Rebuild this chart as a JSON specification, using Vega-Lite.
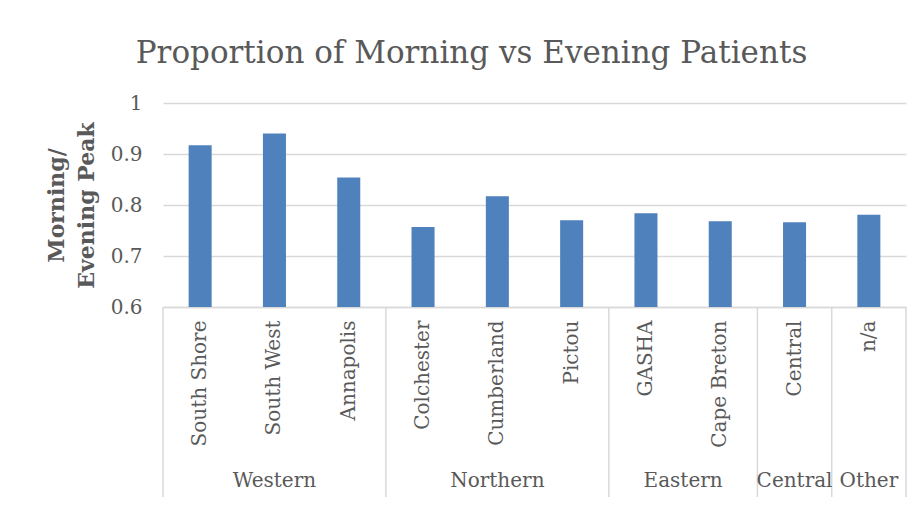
{
  "$schema": "https://vega.github.io/schema/vega-lite/v6.json",
  "width": 743,
  "height": 204,
  "autosize": "none",
  "padding": {"left": 163, "top": 103, "right": 18, "bottom": 201},
  "background": "white",
  "title": {
    "text": "Proportion of Morning vs Evening Patients",
    "font": "DejaVu Serif",
    "fontSize": 31,
    "fontWeight": "normal",
    "color": "#595959",
    "anchor": "middle",
    "dx": -63,
    "offset": 23
  },
  "config": {
    "view": {"stroke": null},
    "font": "DejaVu Serif"
  },
  "datasets": {
    "bars": [
      {"region": "South Shore", "group": "Western", "value": 0.917},
      {"region": "South West", "group": "Western", "value": 0.940},
      {"region": "Annapolis", "group": "Western", "value": 0.854},
      {"region": "Colchester", "group": "Northern", "value": 0.757},
      {"region": "Cumberland", "group": "Northern", "value": 0.817},
      {"region": "Pictou", "group": "Northern", "value": 0.770},
      {"region": "GASHA", "group": "Eastern", "value": 0.784},
      {"region": "Cape Breton", "group": "Eastern", "value": 0.768},
      {"region": "Central", "group": "Central", "value": 0.766},
      {"region": "n/a", "group": "Other", "value": 0.781}
    ],
    "groupStarts": [
      {"region": "South Shore"},
      {"region": "Colchester"},
      {"region": "GASHA"},
      {"region": "Central"},
      {"region": "n/a"}
    ],
    "groupEnd": [
      {"region": "n/a"}
    ],
    "groupLabels": [
      {"group": "Western", "region": "South West", "between": false},
      {"group": "Northern", "region": "Cumberland", "between": false},
      {"group": "Eastern", "region": "GASHA", "between": true},
      {"group": "Central", "region": "Central", "between": false},
      {"group": "Other", "region": "n/a", "between": false}
    ]
  },
  "layer": [
    {
      "data": {"name": "bars"},
      "mark": {"type": "bar", "width": {"band": 0.31}, "color": "#4F81BD"},
      "encoding": {
        "x": {
          "field": "region",
          "type": "nominal",
          "scale": {
            "domain": ["South Shore", "South West", "Annapolis", "Colchester", "Cumberland", "Pictou", "GASHA", "Cape Breton", "Central", "n/a"],
            "paddingInner": 0,
            "paddingOuter": 0
          },
          "axis": {
            "title": null,
            "labelAngle": 270,
            "labelAlign": "right",
            "labelBaseline": "middle",
            "labelFontSize": 20,
            "labelColor": "#595959",
            "labelPadding": 13,
            "labelOverlap": false,
            "ticks": false,
            "domainColor": "#D9D9D9",
            "domainWidth": 1.5,
            "labelFont": "DejaVu Serif"
          }
        },
        "y": {
          "field": "value",
          "type": "quantitative",
          "scale": {"domain": [0.6, 1], "zero": false, "nice": false},
          "axis": {
            "title": ["Morning/", "Evening Peak"],
            "titleFont": "DejaVu Serif",
            "titleFontSize": 22,
            "titleFontWeight": "bold",
            "titleColor": "#595959",
            "titlePadding": 12,
            "titleLineHeight": 30,
            "values": [0.6, 0.7, 0.8, 0.9, 1],
            "format": "~g",
            "labelFontSize": 20,
            "labelColor": "#595959",
            "labelPadding": 21,
            "labelFont": "DejaVu Serif",
            "domain": false,
            "ticks": false,
            "gridColor": "#D9D9D9",
            "gridWidth": 1.5
          }
        },
        "y2": {"datum": 0.6}
      }
    },
    {
      "data": {"name": "groupStarts"},
      "mark": {"type": "rule", "color": "#D9D9D9", "strokeWidth": 1.5},
      "encoding": {
        "x": {"field": "region", "type": "nominal", "bandPosition": 0},
        "y": {"datum": 0.6, "type": "quantitative"},
        "y2": {"datum": 0.2275}
      }
    },
    {
      "data": {"name": "groupEnd"},
      "mark": {"type": "rule", "color": "#D9D9D9", "strokeWidth": 1.5},
      "encoding": {
        "x": {"field": "region", "type": "nominal", "bandPosition": 1},
        "y": {"datum": 0.6, "type": "quantitative"},
        "y2": {"datum": 0.2275}
      }
    },
    {
      "data": {"name": "groupLabels"},
      "transform": [{"filter": "!datum.between"}],
      "mark": {"type": "text", "fontSize": 20, "color": "#595959", "font": "DejaVu Serif", "baseline": "middle", "align": "center"},
      "encoding": {
        "x": {"field": "region", "type": "nominal", "bandPosition": 0.5},
        "y": {"datum": 0.259, "type": "quantitative"},
        "text": {"field": "group"}
      }
    },
    {
      "data": {"name": "groupLabels"},
      "transform": [{"filter": "datum.between"}],
      "mark": {"type": "text", "fontSize": 20, "color": "#595959", "font": "DejaVu Serif", "baseline": "middle", "align": "center"},
      "encoding": {
        "x": {"field": "region", "type": "nominal", "bandPosition": 1},
        "y": {"datum": 0.259, "type": "quantitative"},
        "text": {"field": "group"}
      }
    }
  ]
}
